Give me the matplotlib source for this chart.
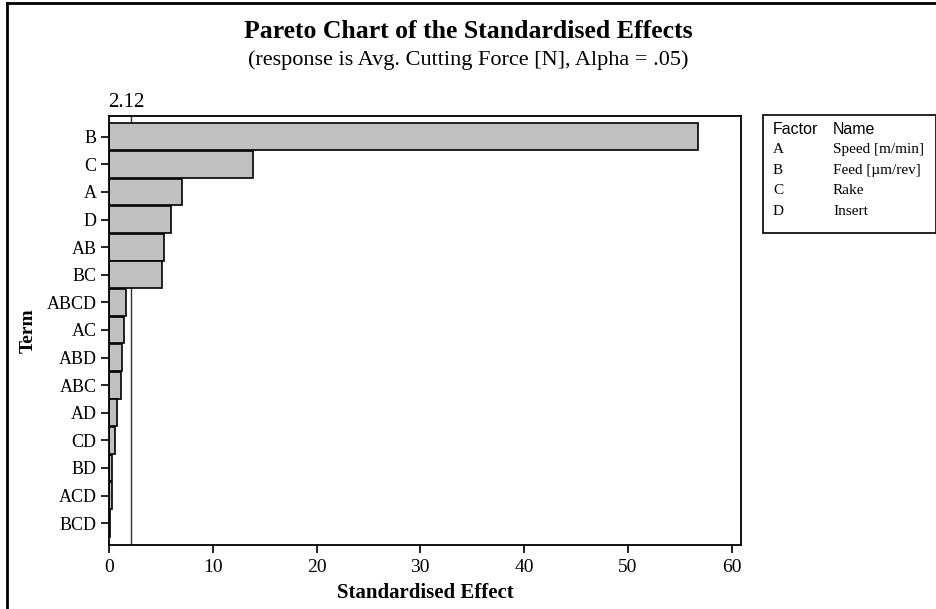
import matplotlib.pyplot as plt
from matplotlib.lines import Line2D
from matplotlib.patches import Rectangle

# Standardised effects, sorted largest first
terms = ['B', 'C', 'A', 'D', 'AB', 'BC', 'ABCD', 'AC', 'ABD', 'ABC',
         'AD', 'CD', 'BD', 'ACD', 'BCD']
effects = [56.8, 13.9, 7.0, 6.0, 5.3, 5.07, 1.6, 1.47, 1.3, 1.12,
           0.74, 0.6, 0.3, 0.28, 0.13]
t_crit = 2.12

factors = ['A', 'B', 'C', 'D']
factor_names = ['Speed [m/min]', 'Feed [\u00b5m/rev]', 'Rake', 'Insert']

serif = 'Liberation Serif'
sans = 'Liberation Sans'

fig = plt.figure(figsize=(9.37, 6.09), dpi=100)
ax = fig.add_axes([0.1163, 0.1051, 0.6745, 0.7044])

pos = list(range(len(terms)))
ax.barh(pos, effects, height=0.97, color='#c0c0c0', edgecolor='black',
        linewidth=1.2, zorder=2)
ax.axvline(t_crit, color='#333333', lw=1.0, zorder=1)

ax.set_xlim(0, 60.9)
ax.set_ylim(len(terms) - 0.21, -0.75)
ax.set_yticks(pos)
ax.set_yticklabels(terms, fontfamily=serif, fontsize=13)
ax.set_xticks(range(0, 61, 10))
ax.set_xticklabels([str(v) for v in range(0, 61, 10)], fontfamily=serif, fontsize=14)
ax.tick_params(axis='both', direction='out', length=6, width=1.2, pad=4)
ax.tick_params(axis='y', pad=3)
for s in ax.spines.values():
    s.set_linewidth(1.3)

# critical value marker on top edge
ax.annotate(f'{t_crit:.2f}', xy=(t_crit, 1.0), xycoords=('data', 'axes fraction'),
            xytext=(-5, 4), textcoords='offset pixels', ha='center', va='bottom',
            fontfamily=serif, fontsize=15)

ax.set_xlabel('Standardised Effect', fontfamily=serif, fontsize=15,
              fontweight='bold', labelpad=5)
ax.set_ylabel('Term', fontfamily=serif, fontsize=14, fontweight='bold',
              labelpad=7)

fig.text(0.5, 1 - 31 / 609, 'Pareto Chart of the Standardised Effects', ha='center',
         va='center', fontfamily=serif, fontsize=18.5, fontweight='bold')
fig.text(0.5, 1 - 60 / 609, '(response is Avg. Cutting Force [N], Alpha = .05)',
         ha='center', va='center', fontfamily=serif, fontsize=16)

# factor table box
W, H = 937, 609
fig.patches.append(Rectangle((763 / W, 1 - 233 / H), (936 - 763) / W,
                             (233 - 115) / H, transform=fig.transFigure,
                             fill=False, edgecolor='black', lw=1.2))
fig.text(773 / W, 1 - 129 / H, 'Factor', fontfamily=sans, fontsize=11.5,
         va='center')
fig.text(833 / W, 1 - 129 / H, 'Name', fontfamily=sans, fontsize=11.5,
         va='center')
for i, (f, n) in enumerate(zip(factors, factor_names)):
    y = 1 - (149.5 + i * 20.6) / H
    fig.text(773 / W, y, f, fontfamily=serif, fontsize=11, va='center')
    fig.text(833 / W, y, n, fontfamily=serif, fontsize=11, va='center')

# outer frame (left and top edges)
fig.lines.append(Line2D([7.5 / W, 7.5 / W], [0, 1 - 2.5 / H],
                        transform=fig.transFigure, color='black', lw=2))
fig.lines.append(Line2D([7.5 / W, 1], [1 - 2.5 / H, 1 - 2.5 / H],
                        transform=fig.transFigure, color='black', lw=2))

fig.savefig('out.png', dpi=100)
